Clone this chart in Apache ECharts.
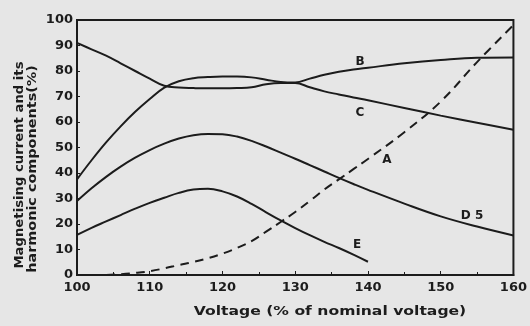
<!DOCTYPE html>
<html>
<head>
<meta charset="utf-8">
<script src="https://cdn.jsdelivr.net/npm/echarts@6/dist/echarts.min.js"></script>
<style>
  html, body { margin: 0; padding: 0; background: #e6e6e6; }
  #chart { width: 530px; height: 326px; }
</style>
</head>
<body>
<div id="chart"></div>
<script>
// voltage in % of nominal
const voltage = [100, 102, 104, 106, 108, 110, 112, 114, 116, 118, 120, 122, 124, 126, 128, 130, 132, 134, 136, 138, 140, 145, 150, 155, 160];

// curves (% of rated)
const curveA = [null, null, 0, 0.3, 0.8, 1.5, 2.6, 3.9, 5.1, 6.6, 8.4, 10.6, 13.3, 17, 20.8, 24.7, 29, 33.5, 37.5, 41.5, 45.5, 56, 68, 83.5, 98];
const curveB = [37.5, 45, 52, 58.3, 64, 69, 73.5, 76, 77.2, 77.6, 77.8, 77.8, 77.5, 76.6, 75.7, 75.5, 77, 78.5, 79.7, 80.6, 81.3, 83, 84.3, 85.2, 85.3];
const curveC = [91, 88.5, 86, 83, 80, 77, 74.2, 73.5, 73.3, 73.2, 73.2, 73.3, 73.6, 74.8, 75.3, 75.3, 73.6, 72, 70.8, 69.6, 68.5, 65.5, 62.5, 59.7, 57];
const curveD = [29, 34, 38.5, 42.5, 46, 49, 51.5, 53.5, 54.8, 55.3, 55.2, 54.3, 52.6, 50.4, 48, 45.6, 43.1, 40.6, 38.1, 35.7, 33.4, 28, 23, 19, 15.5];
const curveE = [15.7, 18.5, 21, 23.5, 26, 28.3, 30.3, 32.2, 33.5, 33.8, 32.8, 30.8, 27.9, 24.6, 21.4, 18.4, 15.6, 13, 10.6, 8, 5.2, null, null, null, null];

const yTicks = [0, 10, 20, 30, 40, 50, 60, 70, 80, 90, 100];

const ink = '#1c1c1c';
const font = 'DejaVu Sans';

const pairs = arr => voltage.map((v, i) => [v, arr[i]]).filter(p => p[1] !== null);

const curve = (name, arr, dashed) => ({
    name: name,
    type: 'line',
    data: pairs(arr),
    smooth: 0.4,
    showSymbol: false,
    lineStyle: { color: ink, width: 2, type: dashed ? [9, 6] : 'solid' },
    animation: false
});

const label = (text, x, y) => ({
    type: 'text', x: x, y: y,
    style: { text: text, fill: ink, font: 'bold 12px DejaVu Sans', align: 'center', verticalAlign: 'middle' }
});

const chart = echarts.init(document.getElementById('chart'));
chart.setOption({
    backgroundColor: '#e6e6e6',
    grid: {
        left: 77, right: 9, top: 20, bottom: 51,
        show: true, borderColor: ink, borderWidth: 2
    },
    xAxis: {
        type: 'value',
        min: 100, max: 160, interval: 10,
        axisLine: { lineStyle: { color: ink, width: 2 } },
        axisTick: { inside: true, length: 4, lineStyle: { color: ink } },
        minorTick: { show: true, splitNumber: 2, length: 3, lineStyle: { color: ink } },
        splitLine: { show: false },
        axisLabel: { color: ink, fontFamily: font, fontWeight: 'bold', fontSize: 13, margin: 6 }
    },
    yAxis: {
        type: 'value',
        min: 0, max: 100, interval: 10,
        axisLine: { show: true, lineStyle: { color: ink, width: 2 } },
        axisTick: { show: true, inside: true, length: 3, lineStyle: { color: ink } },
        splitLine: { show: false },
        axisLabel: {
            color: ink, fontFamily: font, fontWeight: 'bold', fontSize: 13, margin: 4,
            formatter: v => yTicks.includes(v) ? String(v) : ''
        }
    },
    graphic: [
        { type: 'text', x: 20, y: 165, rotation: Math.PI / 2, scaleX: 1.1,
          style: { text: 'Magnetising current and its', fill: ink, font: 'bold 12px DejaVu Sans', align: 'center', verticalAlign: 'middle' } },
        { type: 'text', x: 33, y: 169, rotation: Math.PI / 2, scaleX: 1.2,
          style: { text: 'harmonic components(%)', fill: ink, font: 'bold 12px DejaVu Sans', align: 'center', verticalAlign: 'middle' } },
        { type: 'text', x: 330, y: 312, scaleX: 1.2,
          style: { text: 'Voltage (% of nominal voltage)', fill: ink, font: 'bold 13px DejaVu Sans', align: 'center', verticalAlign: 'middle' } },
        label('B', 360, 62),
        label('C', 360, 113),
        label('A', 387, 160),
        label('D 5', 472, 216),
        label('E', 357, 245)
    ],
    series: [
        curve('A', curveA, true),
        curve('B', curveB),
        curve('C', curveC),
        curve('D', curveD),
        curve('E', curveE)
    ]
});
</script>
</body>
</html>
